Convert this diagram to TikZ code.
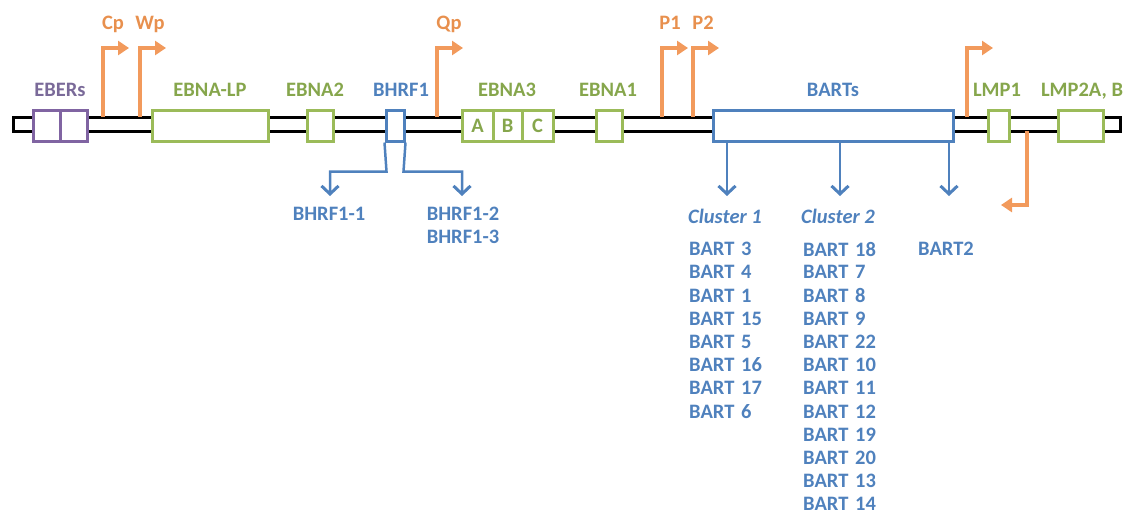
\documentclass[tikz,border=0pt]{standalone}
\usepackage{fontspec}
\setmainfont{Carlito}[BoldFont={Carlito Bold}, ItalicFont={Carlito Italic}, BoldItalicFont={Carlito Bold Italic}]
\usepackage{tikz}
\usetikzlibrary{arrows.meta}

\definecolor{epurple}{HTML}{8064A2}
\definecolor{epurpletext}{HTML}{7A6A99}
\definecolor{egreen}{HTML}{9BBB59}
\definecolor{egreentext}{HTML}{86A64C}
\definecolor{eblue}{HTML}{4F81BD}
\definecolor{eorange}{HTML}{F29A5C}
\definecolor{eorangetext}{HTML}{E8904E}

\tikzset{
  gene/.style={draw=#1, line width=3pt, fill=white, minimum height=31pt, inner sep=0pt},
  glabel/.style={text=#1, anchor=base, inner sep=0pt},
  promoter/.style={draw=eorange, line width=4pt, -{Triangle[length=11pt,width=14pt]}},
  transcript/.style={draw=eblue, line width=2.5pt, -{Straight Barb[length=8pt,width=17pt,line width=3pt]}},
  bart/.style={text=eblue, text width=90pt, align=left, inner sep=0pt},
}

\begin{document}
\begin{tikzpicture}[x=1pt, y=-1pt, font=\fontsize{20.5}{24}\selectfont\bfseries, node distance=23.2pt]
\useasboundingbox (0,0) rectangle (1133,514);

\draw[line width=3pt] (13,117) rectangle (1120,131);

\node[name=ebers_1, gene=epurple, minimum width=27pt] at (46.5,125.5) {};
\node[name=ebers_2, gene=epurple, minimum width=27pt] at (73.5,125.5) {};
\node[name=ebnalp, gene=egreen, minimum width=116pt] at (210,125.5) {};
\node[name=ebna2, gene=egreen, minimum width=26pt] at (320,125.5) {};
\node[name=bhrf1, gene=eblue, minimum width=18pt] at (395,125.5) {};
\node[name=ebna3a, gene=egreen, minimum width=31pt, text=egreentext] at (477.5,125.5) {A};
\node[name=ebna3b, gene=egreen, minimum width=29pt, text=egreentext] at (507.5,125.5) {B};
\node[name=ebna3c, gene=egreen, minimum width=31pt, text=egreentext] at (537.5,125.5) {C};
\node[name=ebna1, gene=egreen, minimum width=26pt] at (609,125.5) {};
\node[name=barts, gene=eblue, minimum width=240pt] at (833,125.5) {};
\node[name=lmp1, gene=egreen, minimum width=21pt] at (998.5,125.5) {};
\node[name=lmp2, gene=egreen, minimum width=45pt] at (1080.5,125.5) {};

\node[name=ebers_lab, glabel=epurpletext] at (60,96) {EBERs};
\node[name=ebnalp_lab, glabel=egreentext] at (210,96) {EBNA-LP};
\node[name=ebna2_lab, glabel=egreentext] at (315,96) {EBNA2};
\node[name=bhrf1_lab, glabel=eblue] at (401,96) {BHRF1};
\node[name=ebna3_lab, glabel=egreentext] at (507,96) {EBNA3};
\node[name=ebna1_lab, glabel=egreentext] at (608,96) {EBNA1};
\node[name=barts_lab, glabel=eblue] at (833,96) {BARTs};
\node[name=lmp1_lab, glabel=egreentext] at (997,96) {LMP1};
\node[name=lmp2_lab, glabel=egreentext] at (1082,96) {LMP2A, B};

\node[name=cp_lab, glabel=eorangetext] at (113,29) {Cp};
\node[name=wp_lab, glabel=eorangetext] at (150,29) {Wp};
\node[name=qp_lab, glabel=eorangetext] at (449,29) {Qp};
\node[name=p1_lab, glabel=eorangetext] at (670,29) {P1};
\node[name=p2_lab, glabel=eorangetext] at (703,29) {P2};

\coordinate (cp) at (103,117);
\coordinate (cp_tip) at (129,48);
\coordinate (wp) at (140,117);
\coordinate (wp_tip) at (166,48);
\coordinate (qp) at (437,117);
\coordinate (qp_tip) at (463,48);
\coordinate (p1) at (662,117);
\coordinate (p1_tip) at (688,48);
\coordinate (p2) at (693,117);
\coordinate (p2_tip) at (719,48);
\coordinate (lmp1p) at (967,117);
\coordinate (lmp1p_tip) at (993,48);
\coordinate (lmp2p) at (1027,131);
\coordinate (lmp2p_tip) at (1001,205);

\draw[promoter] (cp) |- (cp_tip);
\draw[promoter] (wp) |- (wp_tip);
\draw[promoter] (qp) |- (qp_tip);
\draw[promoter] (p1) |- (p1_tip);
\draw[promoter] (p2) |- (p2_tip);
\draw[promoter] (lmp1p) |- (lmp1p_tip);
\draw[promoter] (lmp2p) |- (lmp2p_tip);

\node[name=bhrf1_1, text=eblue, inner sep=0pt] at (329,214) {BHRF1-1};
\node[name=bhrf1_2, text=eblue, inner sep=0pt] at (463,214) {BHRF1-2};
\node[name=bhrf1_3, text=eblue, inner sep=0pt] at (463,237) {BHRF1-3};
\coordinate (h1_tip) at (330,196);
\coordinate (h2_tip) at (462,196);
\draw[transcript] (bhrf1.south west) -- ++(2,29) -| (h1_tip);
\draw[transcript] (bhrf1.south east) -- ++(-2,29) -| (h2_tip);

\node[name=cluster1, text=eblue, inner sep=0pt, font=\fontsize{20.5}{24}\selectfont\bfseries\itshape] at (725,216) {Cluster 1};
\node[name=cluster2, text=eblue, inner sep=0pt, font=\fontsize{20.5}{24}\selectfont\bfseries\itshape] at (838,216) {Cluster 2};
\coordinate (c1_tip) at (727,196);
\coordinate (c2_tip) at (840,196);
\coordinate (c3_tip) at (949,196);
\draw[transcript] (barts.south -| c1_tip) -- (c1_tip);
\draw[transcript] (barts.south -| c2_tip) -- (c2_tip);
\draw[transcript] (barts.south -| c3_tip) -- (c3_tip);

\node[name=c1_b3, bart, anchor=west] at (689,249) {BART 3};
\node[name=c1_b4, bart, below of=c1_b3] {BART 4};
\node[name=c1_b1, bart, below of=c1_b4] {BART 1};
\node[name=c1_b15, bart, below of=c1_b1] {BART 15};
\node[name=c1_b5, bart, below of=c1_b15] {BART 5};
\node[name=c1_b16, bart, below of=c1_b5] {BART 16};
\node[name=c1_b17, bart, below of=c1_b16] {BART 17};
\node[name=c1_b6, bart, below of=c1_b17] {BART 6};

\node[name=c2_b18, bart, anchor=west] at (803,249) {BART 18};
\node[name=c2_b7, bart, below of=c2_b18] {BART 7};
\node[name=c2_b8, bart, below of=c2_b7] {BART 8};
\node[name=c2_b9, bart, below of=c2_b8] {BART 9};
\node[name=c2_b22, bart, below of=c2_b9] {BART 22};
\node[name=c2_b10, bart, below of=c2_b22] {BART 10};
\node[name=c2_b11, bart, below of=c2_b10] {BART 11};
\node[name=c2_b12, bart, below of=c2_b11] {BART 12};
\node[name=c2_b19, bart, below of=c2_b12] {BART 19};
\node[name=c2_b20, bart, below of=c2_b19] {BART 20};
\node[name=c2_b13, bart, below of=c2_b20] {BART 13};
\node[name=c2_b14, bart, below of=c2_b13] {BART 14};

\node[name=b2, bart, anchor=west] at (918,249) {BART2};
\end{tikzpicture}
\end{document}
